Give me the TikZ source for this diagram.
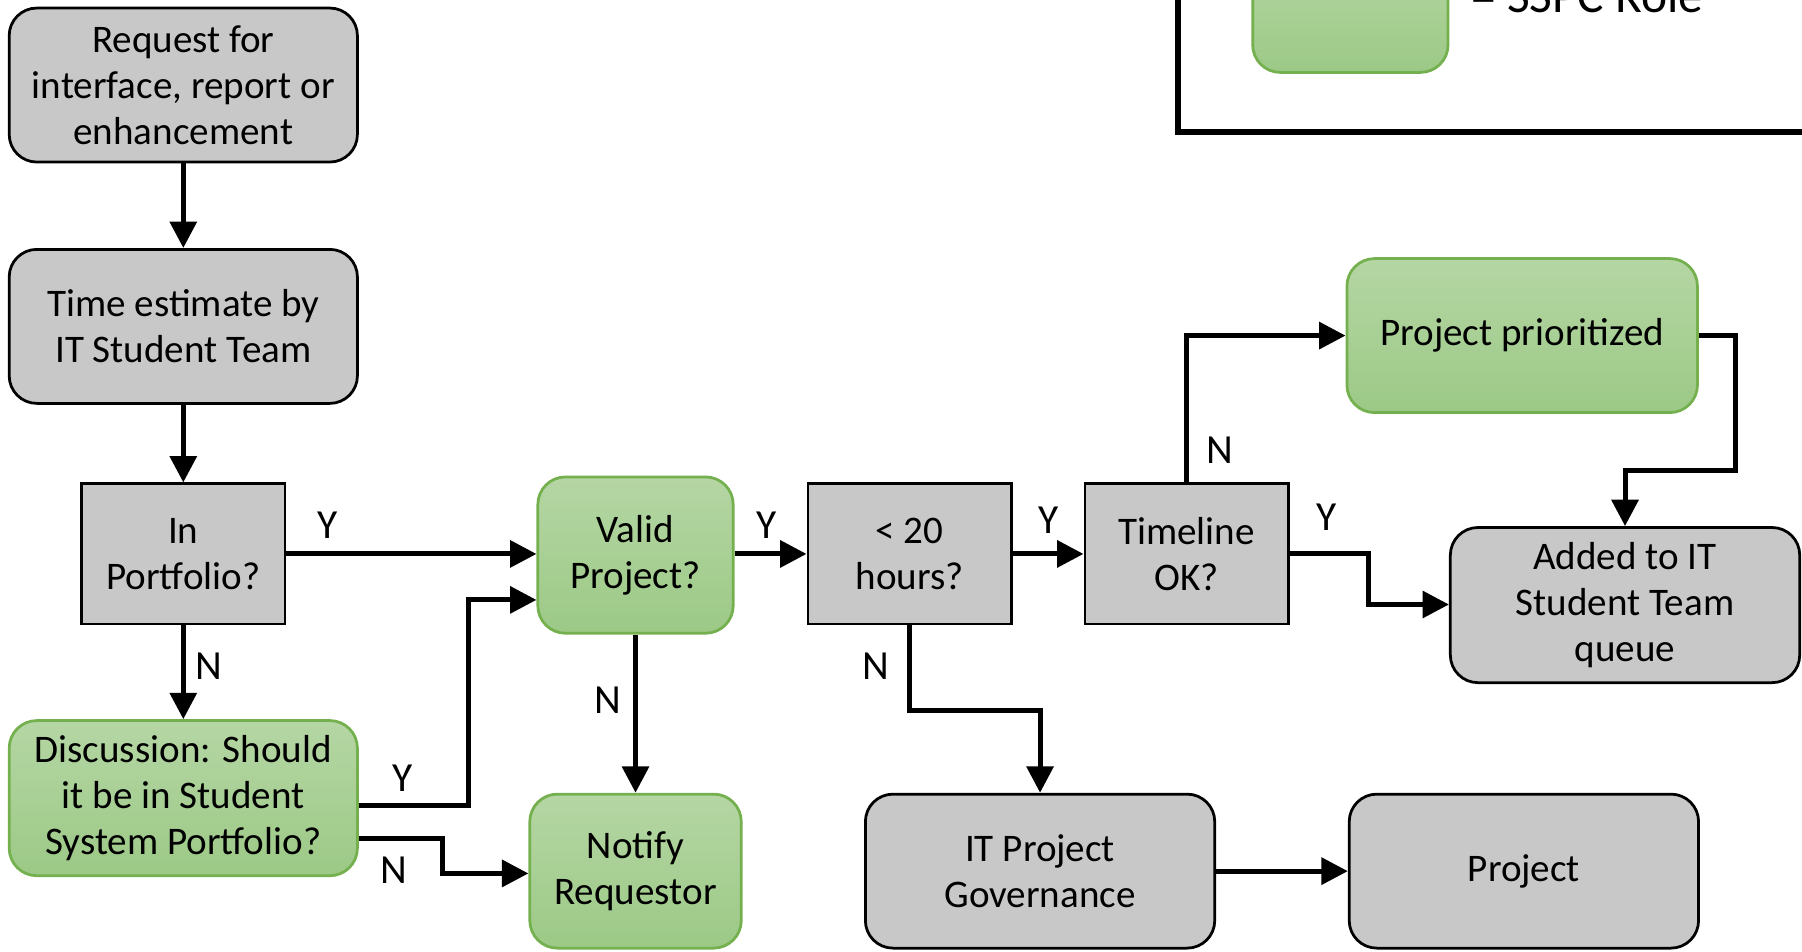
\documentclass[tikz,border=0pt]{standalone}
\usepackage{fontspec}
\setmainfont{Carlito}
\usetikzlibrary{arrows.meta,calc}
\definecolor{boxgray}{RGB}{200,200,200}
\definecolor{gtop}{RGB}{181,214,164}
\definecolor{gbot}{RGB}{156,201,134}
\definecolor{gborder}{RGB}{116,176,78}
\begin{document}
\begin{tikzpicture}[x=1pt,y=-1pt,
 base/.style={line width=2.4pt, align=center, inner sep=0pt, font=\fontsize{34}{40}\selectfont},
 graybox/.style={base, draw=black, fill=boxgray, rounded corners=24pt},
 graysq/.style={base, draw=black, fill=boxgray},
 greenbox/.style={base, draw=gborder, top color=gtop, bottom color=gbot, rounded corners=24pt},
 arr/.style={line width=4.4pt, -{Triangle[length=23pt,width=23pt]}},
 lbl/.style={font=\fontsize{36}{40}\selectfont, inner sep=0pt}]
\useasboundingbox (0,0) rectangle (1568,828);
\clip (0,0) rectangle (1568,828);

% legend
\coordinate (legtop) at (1025,-10);
\coordinate (legcorner) at (1025,115);
\coordinate (legright) at (1580,115);
\draw[line width=5pt] (legtop) -- (legcorner) -- (legright);
\node[greenbox, minimum width=170pt, minimum height=110pt] (leggreen) at (1175,8) {};
\node[anchor=base west, inner sep=0pt, font=\fontsize{43}{50}\selectfont] (legtext) at (1280,11) {= SSPC Role};

% nodes
\node[graybox, minimum width=303pt, minimum height=134pt] (req) at (159.5,74) {Request for\\interface, report or\\enhancement};
\node[graybox, minimum width=303pt, minimum height=134pt] (est) at (159.5,284) {Time estimate by\\IT Student Team};
\node[graysq, minimum width=177pt, minimum height=122pt] (inport) at (159.5,482) {In\\Portfolio?};
\node[greenbox, minimum width=303pt, minimum height=135pt] (disc) at (159.5,694.5) {Discussion: Should\\it be in Student\\System Portfolio?};
\node[greenbox, minimum width=170pt, minimum height=136pt] (valid) at (553,483) {Valid\\Project?};
\node[greenbox, minimum width=184pt, minimum height=134pt] (notify) at (553,758) {Notify\\Requestor};
\node[graysq, minimum width=177pt, minimum height=122pt] (hours) at (791.5,482) {< 20\\hours?};
\node[graysq, minimum width=177pt, minimum height=122pt] (timeline) at (1032.5,482) {Timeline\\OK?};
\node[greenbox, minimum width=305pt, minimum height=134pt] (prio) at (1324.5,292) {Project prioritized};
\node[graybox, minimum width=304pt, minimum height=135pt] (added) at (1414,526.5) {Added to IT\\Student Team\\queue};
\node[graybox, minimum width=304pt, minimum height=134pt] (gov) at (905,758) {IT Project\\Governance};
\node[graybox, minimum width=304pt, minimum height=134pt] (proj) at (1326,758) {Project};

% connectors
\draw[arr] (req) -- (est);
\draw[arr] (est) -- (inport);
\draw[arr] (inport.east) -- (inport.east -| valid.west);
\draw[arr] (inport) -- (disc);
\draw[arr] ($(disc.east)+(0,6)$) -| (408,522) -- ($(valid.west)+(0,39)$);
\draw[arr] ($(disc.east)+(0,35)$) -| (385,760) -- (notify.west |- 0,760);
\draw[arr] (valid.east |- hours.east) -- (hours.east -| hours.west);
\draw[arr] (valid) -- (notify);
\draw[arr] (hours) -- (timeline);
\draw[arr] (hours.south) |- (905,618) -- (gov.north);
\draw[arr] (timeline.north) |- (prio.west);
\draw[arr] (timeline.east) -| (1191,526) -- (added.west |- 0,526);
\draw[arr] (prio.east) -| (1510,409) -| (added.north);
\draw[arr] (gov) -- (proj);

% labels
\node[lbl] (y1) at (285,457) {Y};
\node[lbl] (n1) at (182,580) {N};
\node[lbl] (y2) at (350,677) {Y};
\node[lbl] (n2) at (343,757) {N};
\node[lbl] (y3) at (667,457) {Y};
\node[lbl] (n3) at (529,609) {N};
\node[lbl] (y4) at (912,453) {Y};
\node[lbl] (n4) at (762,580) {N};
\node[lbl] (n5) at (1061,392) {N};
\node[lbl] (y5) at (1154,450) {Y};
\end{tikzpicture}
\end{document}
